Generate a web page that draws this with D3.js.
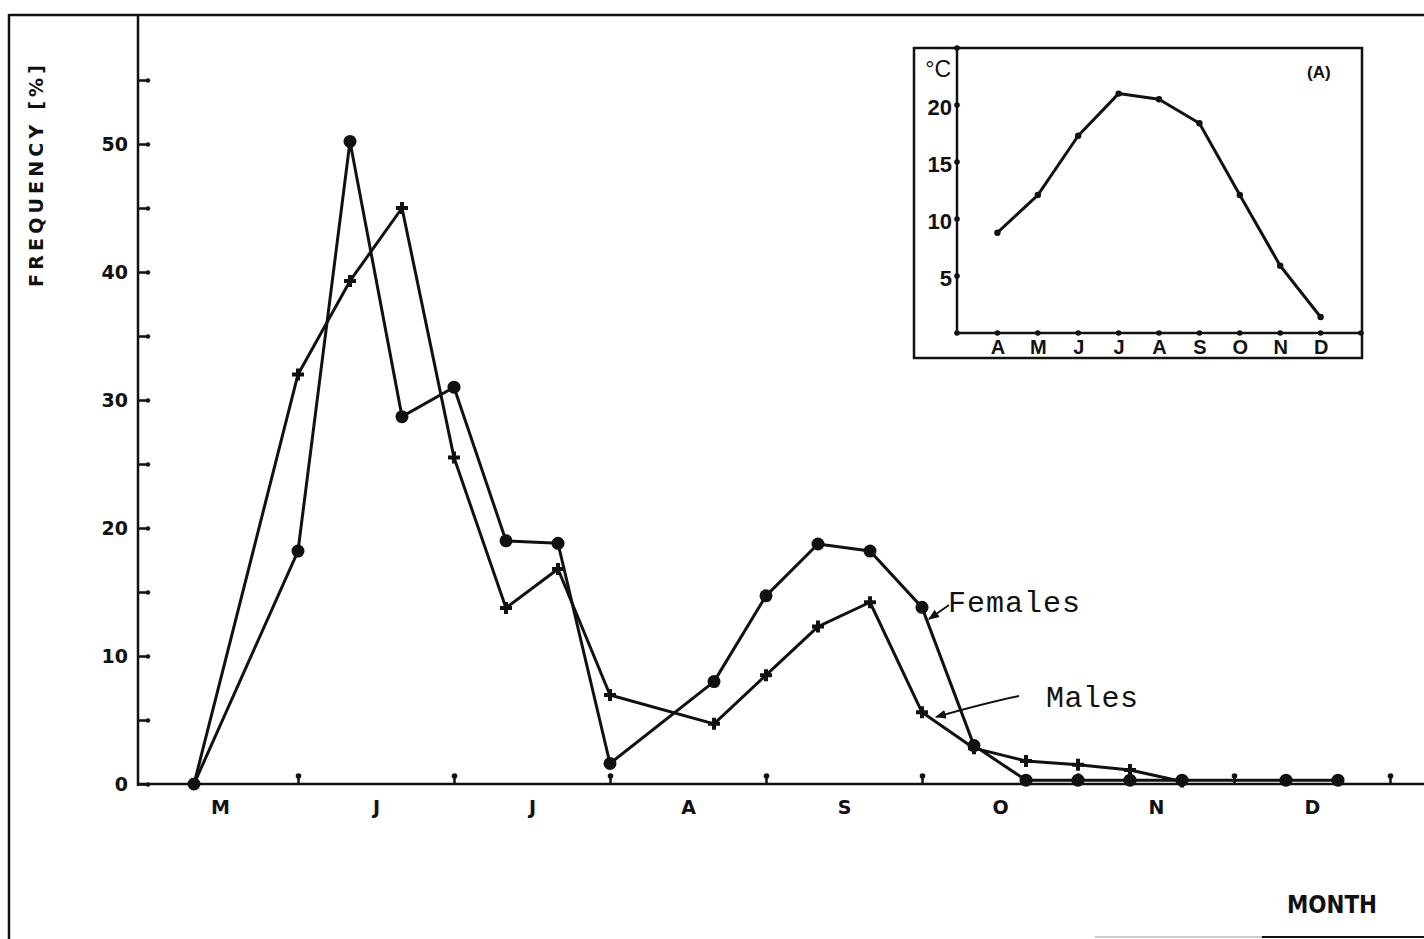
<!DOCTYPE html>
<html>
<head>
<meta charset="utf-8">
<script src="https://cdn.jsdelivr.net/npm/d3@7"></script>
<style>
  html, body { margin: 0; padding: 0; background: #fff; }
  svg { display: block; }
</style>
</head>
<body>
<svg id="chart" width="1424" height="939"></svg>
<script>
// ---------- DATA ----------
// main chart: period index in thirds of a month, starting at 1 May
const months = ["M", "J", "J", "A", "S", "O", "N", "D"];
const yTicks = [0, 10, 20, 30, 40, 50];
const yTickLabels = ["0", "10", "20", "30", "40", "50"];
const femalePeriods = [1, 3, 4, 5, 6, 7, 8, 9, 11, 12, 13, 14, 15, 16, 17, 18, 19, 20, 22, 23];
const femaleValues  = [0, 18.2, 50.2, 28.7, 31.0, 19.0, 18.8, 1.6, 8.0, 14.7, 18.75, 18.2, 13.8, 3.0, 0.3, 0.3, 0.3, 0.3, 0.3, 0.3];
const malePeriods   = [1, 3, 4, 5, 6, 7, 8, 9, 11, 12, 13, 14, 15, 16, 17, 18, 19, 20];
const maleValues    = [0, 32.0, 39.3, 45.0, 25.5, 13.75, 16.8, 6.95, 4.7, 8.5, 12.3, 14.2, 5.6, 2.8, 1.8, 1.5, 1.1, 0.2];
// inset (A): monthly temperature
const insetMonths = ["A", "M", "J", "J", "A", "S", "O", "N", "D"];
const insetTemps  = [8.8, 12.1, 17.3, 21.0, 20.5, 18.4, 12.1, 5.9, 1.4];
const insetYTicks = [5, 10, 15, 20];

// ---------- DRAW ----------
const svg = d3.select("#chart");
const ink = "#111";
const boldFont = "'DejaVu Sans', sans-serif";

// outer frame fragments
svg.append("line").attr("x1", 9).attr("y1", 15).attr("x2", 1424).attr("y2", 15)
  .attr("stroke", ink).attr("stroke-width", 2.5);
svg.append("line").attr("x1", 9).attr("y1", 14).attr("x2", 9).attr("y2", 939)
  .attr("stroke", ink).attr("stroke-width", 2.5);
svg.append("line").attr("x1", 1095).attr("y1", 937).attr("x2", 1262).attr("y2", 937)
  .attr("stroke", "#999").attr("stroke-width", 1.2);
svg.append("line").attr("x1", 1262).attr("y1", 937).attr("x2", 1424).attr("y2", 937)
  .attr("stroke", ink).attr("stroke-width", 2);

const x = d3.scaleLinear().domain([0, 24]).range([142, 1390]);
const y = d3.scaleLinear().domain([0, 55]).range([784, 80]);

// axis lines
svg.append("line").attr("x1", 138).attr("y1", 15).attr("x2", 138).attr("y2", 786)
  .attr("stroke", ink).attr("stroke-width", 2.5);
svg.append("line").attr("x1", 137).attr("y1", y(0)).attr("x2", 1424).attr("y2", y(0))
  .attr("stroke", ink).attr("stroke-width", 2.5);

// y ticks (pointing right), every 5
const yTickG = svg.append("g").attr("transform", "translate(138,0)")
  .call(d3.axisRight(y).tickValues(d3.range(0, 56, 5)).tickSize(10).tickFormat(""));
yTickG.select(".domain").remove();
yTickG.selectAll(".tick line").attr("stroke", ink).attr("stroke-width", 2.5);
yTickG.selectAll(".tick").append("circle").attr("cx", 10).attr("cy", 0).attr("r", 2.2).attr("fill", ink);

// y labels
const yLabG = svg.append("g").attr("transform", "translate(138,0)")
  .call(d3.axisLeft(y).tickValues(yTicks).tickSize(0).tickPadding(10)
    .tickFormat((d, i) => yTickLabels[i]));
yLabG.select(".domain").remove();
yLabG.selectAll("text").attr("font-family", boldFont).attr("font-weight", "bold")
  .attr("font-size", 19).attr("fill", ink).attr("dy", "0.36em");

// x month-boundary ticks (pointing up)
const xTickG = svg.append("g").attr("transform", `translate(0,${y(0)})`)
  .call(d3.axisTop(x).tickValues(d3.range(3, 25, 3)).tickSize(9).tickFormat(""));
xTickG.select(".domain").remove();
xTickG.selectAll(".tick line").attr("stroke", ink).attr("stroke-width", 2.5);
xTickG.selectAll(".tick").append("circle").attr("cx", 0).attr("cy", -8).attr("r", 2.8).attr("fill", ink);

// x month labels
const xLabG = svg.append("g").attr("transform", `translate(0,${y(0)})`)
  .call(d3.axisBottom(x).tickValues(months.map((m, i) => 3 * i + 1.5)).tickSize(0)
    .tickFormat((d, i) => months[i]));
xLabG.select(".domain").remove();
xLabG.selectAll("text").attr("font-family", boldFont).attr("font-weight", "bold")
  .attr("font-size", 19).attr("fill", ink).attr("y", 30).attr("dy", null);

// axis titles
svg.append("text").attr("transform", "translate(43,176) rotate(-90)")
  .attr("text-anchor", "middle").attr("font-family", boldFont).attr("font-weight", "bold")
  .attr("font-size", 19).attr("fill", ink).attr("textLength", 222).attr("lengthAdjust", "spacing")
  .text("FREQUENCY [%]");
svg.append("text").attr("x", 1287).attr("y", 913)
  .attr("font-family", boldFont).attr("font-weight", "bold")
  .attr("font-size", 24).attr("fill", ink).attr("textLength", 90).attr("lengthAdjust", "spacingAndGlyphs")
  .text("MONTH");

// series
const femaleData = femalePeriods.map((p, i) => ({ p, v: femaleValues[i] }));
const maleData = malePeriods.map((p, i) => ({ p, v: maleValues[i] }));
const line = d3.line().x(d => x(d.p)).y(d => y(d.v));

svg.append("path").datum(maleData).attr("d", line)
  .attr("fill", "none").attr("stroke", ink).attr("stroke-width", 3).attr("stroke-linejoin", "round");
svg.append("path").datum(femaleData).attr("d", line)
  .attr("fill", "none").attr("stroke", ink).attr("stroke-width", 3).attr("stroke-linejoin", "round");

svg.selectAll(".male").data(maleData).join("path").attr("class", "male")
  .attr("transform", d => `translate(${x(d.p)},${y(d.v)})`)
  .attr("d", d3.symbol(d3.symbolCross, 80)).attr("fill", ink);
svg.selectAll(".female").data(femaleData).join("circle").attr("class", "female")
  .attr("cx", d => x(d.p)).attr("cy", d => y(d.v)).attr("r", 6.5).attr("fill", ink);

// annotations
const defs = svg.append("defs");
defs.append("marker").attr("id", "arr").attr("viewBox", "0 0 10 10")
  .attr("refX", 9).attr("refY", 5).attr("markerWidth", 11).attr("markerHeight", 11)
  .attr("markerUnits", "userSpaceOnUse").attr("orient", "auto")
  .append("path").attr("d", "M0,1 L10,5 L0,9 Z").attr("fill", ink);

svg.append("path").attr("d", "M949,605 L929,619")
  .attr("stroke", ink).attr("stroke-width", 1.8).attr("fill", "none").attr("marker-end", "url(#arr)");
svg.append("path").attr("d", "M1019,696 Q985,703 936,717")
  .attr("stroke", ink).attr("stroke-width", 1.8).attr("fill", "none").attr("marker-end", "url(#arr)");

const typeFont = "'Liberation Mono', 'Courier New', monospace";
svg.append("text").attr("x", 948).attr("y", 612).attr("font-family", typeFont)
  .attr("font-size", 30).attr("fill", ink).attr("textLength", 132).text("Females");
svg.append("text").attr("x", 1046).attr("y", 707).attr("font-family", typeFont)
  .attr("font-size", 30).attr("fill", ink).attr("textLength", 92).text("Males");

// ---------- INSET ----------
const inset = svg.append("g");
const sansFont = "'Liberation Sans', Arial, sans-serif";
inset.append("rect").attr("x", 914).attr("y", 48).attr("width", 448).attr("height", 310)
  .attr("fill", "#fff").attr("stroke", ink).attr("stroke-width", 2.5);

const xi = d3.scaleLinear().domain([0, 10]).range([957, 1361]);
const yi = d3.scaleLinear().domain([0, 25]).range([333, 48]);

inset.append("line").attr("x1", xi(0)).attr("y1", 48).attr("x2", xi(0)).attr("y2", yi(0))
  .attr("stroke", ink).attr("stroke-width", 2.5);
inset.append("line").attr("x1", xi(0)).attr("y1", yi(0)).attr("x2", 1362).attr("y2", yi(0))
  .attr("stroke", ink).attr("stroke-width", 2.5);

// tick dots
inset.selectAll(".iyt").data([0].concat(insetYTicks)).join("circle").attr("class", "iyt")
  .attr("cx", xi(0)).attr("cy", d => yi(d)).attr("r", 2.8).attr("fill", ink);
inset.selectAll(".ixt").data(d3.range(1, 11)).join("circle").attr("class", "ixt")
  .attr("cx", d => xi(d)).attr("cy", yi(0)).attr("r", 2.8).attr("fill", ink);
inset.append("circle").attr("cx", xi(0)).attr("cy", 48).attr("r", 2.8).attr("fill", ink);

const iyLab = inset.append("g").attr("transform", `translate(${xi(0)},0)`)
  .call(d3.axisLeft(yi).tickValues(insetYTicks).tickSize(0).tickPadding(5));
iyLab.select(".domain").remove();
iyLab.selectAll("text").attr("font-family", sansFont).attr("font-weight", "bold")
  .attr("font-size", 22).attr("fill", ink).attr("dy", "0.45em");

const ixLab = inset.append("g").attr("transform", `translate(0,${yi(0)})`)
  .call(d3.axisBottom(xi).tickValues(d3.range(1, 10)).tickSize(0)
    .tickFormat((d, i) => insetMonths[i]));
ixLab.select(".domain").remove();
ixLab.selectAll("text").attr("font-family", sansFont).attr("font-weight", "bold")
  .attr("font-size", 20).attr("fill", ink).attr("y", 21).attr("dy", null);

inset.append("text").attr("x", 951).attr("y", 77).attr("text-anchor", "end")
  .attr("font-family", sansFont).attr("font-size", 23).attr("fill", ink).text("°C");
inset.append("text").attr("x", 1307).attr("y", 78)
  .attr("font-family", sansFont).attr("font-weight", "bold").attr("font-size", 17).attr("fill", ink).text("(A)");

const insetData = insetTemps.map((t, i) => ({ i: i + 1, t }));
inset.append("path").datum(insetData)
  .attr("d", d3.line().x(d => xi(d.i)).y(d => yi(d.t)))
  .attr("fill", "none").attr("stroke", ink).attr("stroke-width", 3).attr("stroke-linejoin", "round");
inset.selectAll(".ipt").data(insetData).join("circle").attr("class", "ipt")
  .attr("cx", d => xi(d.i)).attr("cy", d => yi(d.t)).attr("r", 3.2).attr("fill", ink);
</script>
</body>
</html>
